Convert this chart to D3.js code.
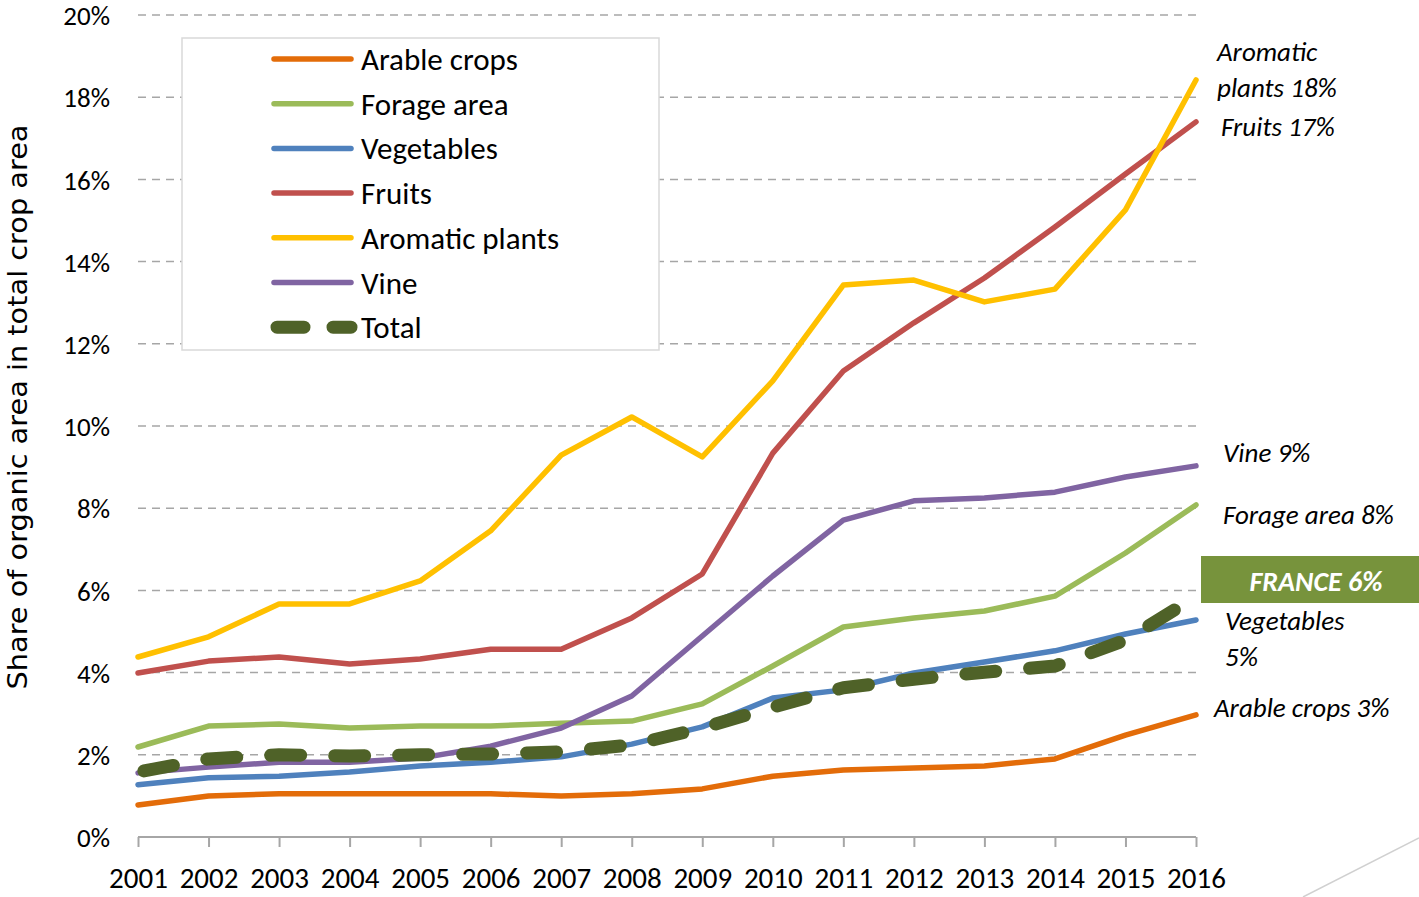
<!DOCTYPE html>
<html lang="en">
<head>
    <meta charset="UTF-8">
    <title>Organic area share</title>
    <script src="https://cdn.jsdelivr.net/npm/d3@7"></script>
    <style>
        body { margin: 0; background: #fff; }
        svg { display: block; }
        .calibri { font-family: Carlito, Lato, sans-serif; }
    </style>
</head>
<body>
    <script>
        // Data (share of organic area, %)
        const years = [2001, 2002, 2003, 2004, 2005, 2006, 2007, 2008, 2009, 2010, 2011, 2012, 2013, 2014, 2015, 2016];
        const arable = [0.78, 1.0, 1.05, 1.05, 1.05, 1.05, 1.0, 1.05, 1.17, 1.48, 1.63, 1.68, 1.73, 1.9, 2.48, 2.97];
        const forage = [2.19, 2.7, 2.75, 2.65, 2.7, 2.7, 2.77, 2.82, 3.24, 4.16, 5.11, 5.33, 5.5, 5.86, 6.91, 8.08];
        const vegetables = [1.27, 1.44, 1.48, 1.58, 1.73, 1.82, 1.95, 2.26, 2.68, 3.38, 3.58, 3.99, 4.26, 4.53, 4.94, 5.28];
        const fruits = [3.99, 4.28, 4.38, 4.21, 4.33, 4.57, 4.57, 5.33, 6.4, 9.34, 11.34, 12.51, 13.6, 14.84, 16.13, 17.4];
        const aromatic = [4.38, 4.87, 5.67, 5.67, 6.23, 7.45, 9.29, 10.22, 9.25, 11.1, 13.43, 13.55, 13.02, 13.33, 15.26, 18.42];
        const vine = [1.56, 1.7, 1.82, 1.82, 1.92, 2.21, 2.65, 3.43, 4.89, 6.35, 7.71, 8.18, 8.25, 8.39, 8.76, 9.03];
        const total = [1.58, 1.9, 2.0, 1.97, 2.0, 2.02, 2.07, 2.24, 2.65, 3.16, 3.63, 3.84, 4.01, 4.16, 4.79, 5.85];
        const yTicks = [0, 2, 4, 6, 8, 10, 12, 14, 16, 18, 20];

        const series = [
            { name: 'Arable crops', values: arable, color: '#e36c09' },
            { name: 'Forage area', values: forage, color: '#9bbb59' },
            { name: 'Vegetables', values: vegetables, color: '#4f81bd' },
            { name: 'Fruits', values: fruits, color: '#c0504d' },
            { name: 'Aromatic plants', values: aromatic, color: '#ffc000' },
            { name: 'Vine', values: vine, color: '#8064a2' },
            { name: 'Total', values: total, color: '#4f6228', dashed: true }
        ];

        const W = 1419, H = 897;
        const margin = { top: 15, right: 223, bottom: 60, left: 138 };
        const width = W - margin.left - margin.right;
        const height = H - margin.top - margin.bottom;

        const root = d3.select('body').append('svg')
            .attr('width', W)
            .attr('height', H);

        const svg = root.append('g')
            .attr('transform', 'translate(' + margin.left + ',' + margin.top + ')');

        const x = d3.scaleLinear().domain([2001, 2016]).range([0, width]);
        const y = d3.scaleLinear().domain([0, 20]).range([height, 0]);

        // Gridlines
        svg.append('g')
            .selectAll('line')
            .data(yTicks.filter(d => d > 0))
            .enter()
            .append('line')
            .attr('x1', 0)
            .attr('x2', width)
            .attr('y1', d => y(d))
            .attr('y2', d => y(d))
            .attr('stroke', '#a6a6a6')
            .attr('stroke-width', 1.5)
            .attr('stroke-dasharray', '8,6');

        // Y axis labels
        const yAxis = svg.append('g')
            .attr('class', 'calibri')
            .call(d3.axisLeft(y).tickValues(yTicks).tickSize(0).tickPadding(28).tickFormat(d => d + '%'));
        yAxis.select('.domain').remove();
        yAxis.selectAll('text').attr('font-size', 27).attr('dy', '0.36em').attr('fill', '#000');

        // X axis
        const xAxis = svg.append('g')
            .attr('class', 'calibri')
            .attr('transform', 'translate(0,' + height + ')')
            .call(d3.axisBottom(x).tickValues(years).tickSize(10).tickPadding(20).tickFormat(d3.format('d')));
        xAxis.select('.domain').attr('stroke', '#a6a6a6').attr('stroke-width', 2).attr('d', 'M0,0H' + width);
        xAxis.selectAll('.tick line').attr('stroke', '#a6a6a6').attr('stroke-width', 2);
        xAxis.selectAll('text').attr('font-size', 29).attr('fill', '#000');

        // Y axis title
        root.append('text')
            .attr('transform', 'translate(27,407) rotate(-90)')
            .attr('text-anchor', 'middle')
            .attr('font-family', '"DejaVu Sans", sans-serif')
            .attr('font-size', 27)
            .attr('textLength', 565)
            .attr('lengthAdjust', 'spacingAndGlyphs')
            .attr('fill', '#000')
            .text('Share of organic area in total crop area');

        // Lines
        const line = d3.line()
            .x((d, i) => x(years[i]))
            .y(d => y(d));

        series.forEach(s => {
            const p = svg.append('path')
                .datum(s.values)
                .attr('d', line)
                .attr('fill', 'none')
                .attr('stroke', s.color)
                .attr('stroke-linejoin', 'round')
                .attr('stroke-linecap', 'round');
            if (s.dashed) {
                p.attr('stroke-width', 13)
                    .attr('stroke-dasharray', '30,34')
                    .attr('stroke-dashoffset', -6);
            } else {
                p.attr('stroke-width', 5.5);
            }
        });

        // Legend
        const legend = root.append('g').attr('class', 'calibri');
        legend.append('rect')
            .attr('x', 182).attr('y', 38)
            .attr('width', 477).attr('height', 312)
            .attr('fill', '#fff')
            .attr('stroke', '#d9d9d9')
            .attr('stroke-width', 1.5);

        series.forEach((s, i) => {
            const ly = 59 + i * 44.7;
            const ll = legend.append('line')
                .attr('y1', ly).attr('y2', ly)
                .attr('stroke', s.color)
                .attr('stroke-linecap', 'round');
            if (s.dashed) {
                ll.attr('x1', 277).attr('x2', 351)
                    .attr('stroke-width', 13)
                    .attr('stroke-dasharray', '27,29');
            } else {
                ll.attr('x1', 274).attr('x2', 351)
                    .attr('stroke-width', 5.5);
            }
            legend.append('text')
                .attr('x', 361)
                .attr('y', ly + 11)
                .attr('font-size', 31)
                .attr('fill', '#000')
                .text(s.name);
        });

        // End annotations
        const ann = root.append('g')
            .attr('class', 'calibri')
            .attr('font-style', 'italic')
            .attr('font-size', 27)
            .attr('fill', '#000');
        const notes = [
            { t: 'Aromatic', x: 1217, y: 61 },
            { t: 'plants 18%', x: 1217, y: 97 },
            { t: 'Fruits 17%', x: 1221, y: 136 },
            { t: 'Vine 9%', x: 1223, y: 462 },
            { t: 'Forage area 8%', x: 1223, y: 524 },
            { t: 'Vegetables', x: 1225, y: 630 },
            { t: '5%', x: 1225, y: 666 },
            { t: 'Arable crops 3%', x: 1214, y: 717 }
        ];
        ann.selectAll('text')
            .data(notes)
            .enter()
            .append('text')
            .attr('x', d => d.x)
            .attr('y', d => d.y)
            .text(d => d.t);

        // France box
        root.append('rect')
            .attr('x', 1201).attr('y', 556)
            .attr('width', 218).attr('height', 47)
            .attr('fill', '#77933c');
        root.append('text')
            .attr('class', 'calibri')
            .attr('x', 1316).attr('y', 591)
            .attr('text-anchor', 'middle')
            .attr('font-size', 28)
            .attr('font-weight', 'bold')
            .attr('font-style', 'italic')
            .attr('fill', '#fff')
            .text('FRANCE 6%');

        // slide decoration
        root.append('line')
            .attr('x1', 1303).attr('y1', 897)
            .attr('x2', 1419).attr('y2', 838)
            .attr('stroke', '#d0d0d0')
            .attr('stroke-width', 1.5);
    </script>
</body>
</html>
